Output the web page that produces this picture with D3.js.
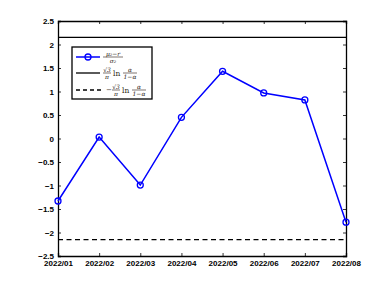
<!DOCTYPE html>
<html><head><meta charset="utf-8">
<script src="https://cdn.jsdelivr.net/npm/d3@7"></script>
<style>body{margin:0;background:#fff}svg{display:block}</style>
</head><body>
<script>
const categories = ["2022/01","2022/02","2022/03","2022/04","2022/05","2022/06","2022/07","2022/08"];
const values = [-1.33, 0.03, -0.99, 0.45, 1.43, 0.97, 0.82, -1.78];
const upperBound = 2.15;
const lowerBound = -2.15;
const yTicks = [-2.5,-2,-1.5,-1,-0.5,0,0.5,1,1.5,2,2.5];

const W=380,H=285;
const m={l:58,r:34,t:21,b:29};
const svg=d3.select("body").append("svg").attr("width",W).attr("height",H);
const x=d3.scalePoint().domain(categories).range([m.l,W-m.r]);
const y=d3.scaleLinear().domain([-2.5,2.5]).range([H-m.b,m.t]);
const font="'Liberation Sans', Arial, sans-serif";

const fmt=d=>(d<0?"\u2212":"")+Math.abs(d);
const gL=svg.append("g").attr("transform",`translate(${m.l},0)`).call(d3.axisLeft(y).tickValues(yTicks).tickSize(-3).tickPadding(4).tickFormat(fmt));
const gR=svg.append("g").attr("transform",`translate(${W-m.r},0)`).call(d3.axisRight(y).tickValues(yTicks).tickSize(-3).tickFormat(""));
const gB=svg.append("g").attr("transform",`translate(0,${H-m.b})`).call(d3.axisBottom(x).tickSize(-3).tickPadding(4));
const gT=svg.append("g").attr("transform",`translate(0,${m.t})`).call(d3.axisTop(x).tickSize(-3).tickFormat(""));
[gL,gR,gB,gT].forEach(g=>{g.select(".domain").attr("stroke","#000").attr("stroke-width",1.3);
  g.selectAll(".tick line").attr("stroke","#000").attr("stroke-width",0.8);
  g.selectAll("text").attr("font-family",font).attr("font-size",8).attr("font-weight","bold").attr("fill","#000");});

// bounds
svg.append("line").attr("x1",m.l).attr("x2",W-m.r).attr("y1",y(upperBound)).attr("y2",y(upperBound)).attr("stroke","#000").attr("stroke-width",1.3);
svg.append("line").attr("x1",m.l).attr("x2",W-m.r).attr("y1",y(lowerBound)).attr("y2",y(lowerBound)).attr("stroke","#000").attr("stroke-width",1.3).attr("stroke-dasharray","5,3.5");

// series
const line=d3.line().x((d,i)=>x(categories[i])).y(d=>y(d));
svg.append("path").datum(values).attr("d",line).attr("fill","none").attr("stroke","#0000ff").attr("stroke-width",1.5);
svg.selectAll("circle.pt").data(values).enter().append("circle").attr("class","pt")
  .attr("cx",(d,i)=>x(categories[i])).attr("cy",d=>y(d)).attr("r",3).attr("fill","none").attr("stroke","#0000ff").attr("stroke-width",1.3);

// legend
const lg=svg.append("g");
lg.append("rect").attr("x",72).attr("y",47).attr("width",80).attr("height",52).attr("fill","#fff").attr("stroke","#000").attr("stroke-width",1.3);
const tc="#2a1a10";
const ys=[57,73,90];
lg.append("line").attr("x1",76).attr("x2",100).attr("y1",ys[0]).attr("y2",ys[0]).attr("stroke","#0000ff").attr("stroke-width",1.5);
lg.append("circle").attr("cx",88).attr("cy",ys[0]).attr("r",3).attr("fill","none").attr("stroke","#0000ff").attr("stroke-width",1.3);
lg.append("line").attr("x1",76).attr("x2",100).attr("y1",ys[1]).attr("y2",ys[1]).attr("stroke","#000").attr("stroke-width",1.3);
lg.append("line").attr("x1",76).attr("x2",104).attr("y1",ys[2]).attr("y2",ys[2]).attr("stroke","#000").attr("stroke-width",1.3).attr("stroke-dasharray","4,3");
const mf="'DejaVu Serif', 'Liberation Serif', serif";
function frac(g,cx,cy,num,den,w){
  g.append("text").attr("x",cx).attr("y",cy-1.5).attr("text-anchor","middle").attr("font-family",mf).attr("font-style","italic").attr("font-size",6).attr("fill",tc).text(num);
  g.append("line").attr("x1",cx-w/2).attr("x2",cx+w/2).attr("y1",cy).attr("y2",cy).attr("stroke",tc).attr("stroke-width",0.6);
  g.append("text").attr("x",cx).attr("y",cy+5.5).attr("text-anchor","middle").attr("font-family",mf).attr("font-style","italic").attr("font-size",6).attr("fill",tc).text(den);
}
frac(lg,113,ys[0],"\u03bc\u2082\u2212r","\u03c3\u2082",20);
function entry(cy,x0,neg){
  let xx=x0;
  if(neg){lg.append("text").attr("x",xx).attr("y",cy+2).attr("font-family",mf).attr("font-size",7).attr("fill",tc).text("\u2212");xx+=6;}
  frac(lg,xx+4,cy,"\u221a3","\u03c0",8);
  lg.append("text").attr("x",xx+10).attr("y",cy+2.5).attr("font-family",mf).attr("font-size",7.5).attr("fill",tc).text("ln");
  frac(lg,xx+27,cy,"\u03b1","1\u2212\u03b1",14);
}
entry(ys[1],103,false);
entry(ys[2],106,true);
</script>
</body></html>
